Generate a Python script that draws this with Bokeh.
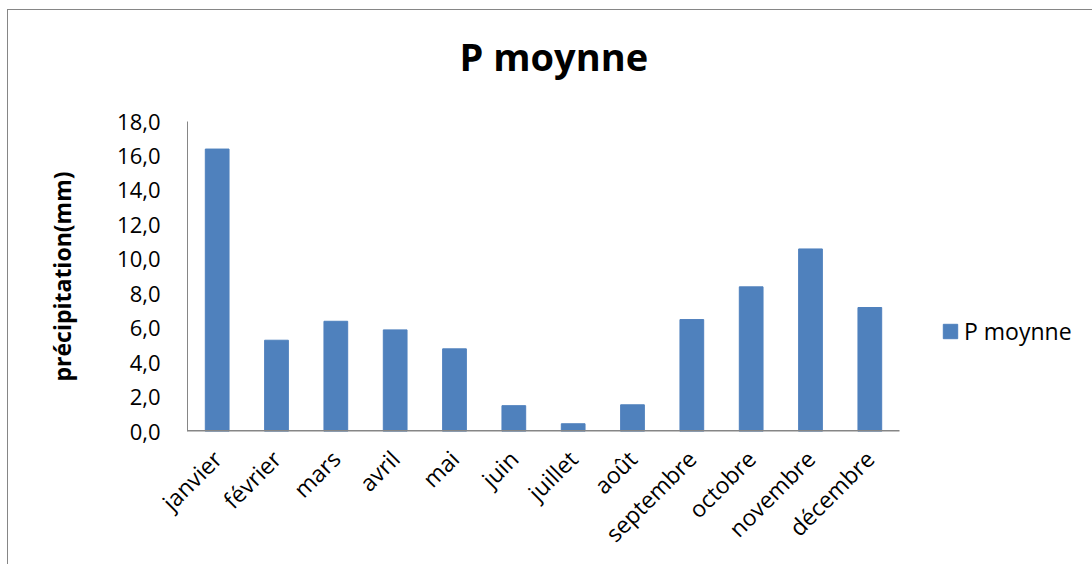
from bokeh.plotting import figure
from bokeh.layouts import column
from bokeh.models import Range1d, FixedTicker, Legend, LegendItem, ColumnDataSource
from bokeh.embed import file_html
from bokeh.resources import INLINE

# ---- data ----
months = ["janvier", "février", "mars", "avril", "mai", "juin", "juillet",
          "août", "septembre", "octobre", "novembre", "décembre"]
p_moyenne = [16.4, 5.3, 6.4, 5.9, 4.8, 1.5, 0.45, 1.55, 6.5, 8.4, 10.6, 7.2]
y_ticks = [0, 2, 4, 6, 8, 10, 12, 14, 16, 18]
y_tick_labels = ["0,0", "2,0", "4,0", "6,0", "8,0", "10,0", "12,0", "14,0", "16,0", "18,0"]
series_name = "P moynne"
title_text = "P moynne"
y_label = "précipitation(mm)"

FONT = "Open Sans"
BAR = "#4F81BD"
AXIS = "#868686"

n = len(months)
x_pos = [i + 0.5 for i in range(n)]
src = ColumnDataSource(dict(x=x_pos, month=months, value=p_moyenne))

# frame spans to the right edge (legend lives inside it); categories occupy 712px of 906px
AXIS_PX, FRAME_PX = 712, 906
p = figure(width=1085, height=574,
           x_range=Range1d(0, n * FRAME_PX / AXIS_PX),
           y_range=Range1d(0, 18),
           output_backend="svg", toolbar_location=None,
           min_border_left=179, min_border_right=0,
           min_border_top=131, min_border_bottom=133)
p.styles = {"margin-top": "-20px"}

r = p.vbar(x="x", top="value", width=0.4, source=src,
           fill_color=BAR, line_color=BAR)
# category axis baseline (only under the categories)
p.segment(x0=[0], x1=[n], y0=[0], y1=[0], line_color=AXIS, line_width=3)

# title
p.title.text = title_text
p.title.text_font = FONT
p.title.text_font_size = "38px"
p.title.text_font_style = "bold"
p.title.text_color = "black"
p.title.align = "left"
p.title.offset = 272
p.title.vertical_align = "top"
p.title.standoff = 76

p.outline_line_color = None
p.xgrid.grid_line_color = None
p.ygrid.grid_line_color = None
p.background_fill_color = "white"
p.border_fill_alpha = 0

# y axis
ya = p.yaxis[0]
ya.ticker = FixedTicker(ticks=y_ticks)
ya.major_label_overrides = {t: l for t, l in zip(y_ticks, y_tick_labels)}
ya.axis_line_color = AXIS
ya.axis_line_width = 1
ya.major_tick_out = 0
ya.major_tick_in = 0
ya.minor_tick_out = 0
ya.minor_tick_in = 0
ya.major_label_standoff = 27
ya.major_label_text_font = FONT
ya.major_label_text_font_size = "22px"
ya.major_label_text_color = "black"
ya.axis_label = y_label
ya.axis_label_text_font = FONT
ya.axis_label_text_font_size = "23px"
ya.axis_label_text_font_style = "bold"
ya.axis_label_text_color = "black"
ya.axis_label_standoff = 36

# x axis (category labels)
xa = p.xaxis[0]
xa.ticker = FixedTicker(ticks=x_pos)
xa.major_label_overrides = {x: m for x, m in zip(x_pos, months)}
xa.axis_line_color = None
xa.major_tick_out = 0
xa.major_tick_in = 0
xa.minor_tick_out = 0
xa.minor_tick_in = 0
xa.major_label_orientation = 0.785398
xa.major_label_standoff = 23
xa.major_label_text_font = FONT
xa.major_label_text_font_size = "23px"
xa.major_label_text_color = "black"

# legend
legend = Legend(items=[LegendItem(label=series_name, renderers=[r])],
                location=(754, 84), padding=0, margin=0,
                border_line_color=None, background_fill_alpha=0,
                glyph_width=18, glyph_height=18, label_standoff=5,
                label_text_font=FONT, label_text_font_size="23px",
                label_text_color="black")
p.add_layout(legend, "center")

page = column(p, styles={"border-left": "1px solid #868686", "border-top": "1px solid #868686",
                         "margin-left": "7px", "margin-top": "9px"})

open("out.html", "w").write(file_html(page, INLINE))
